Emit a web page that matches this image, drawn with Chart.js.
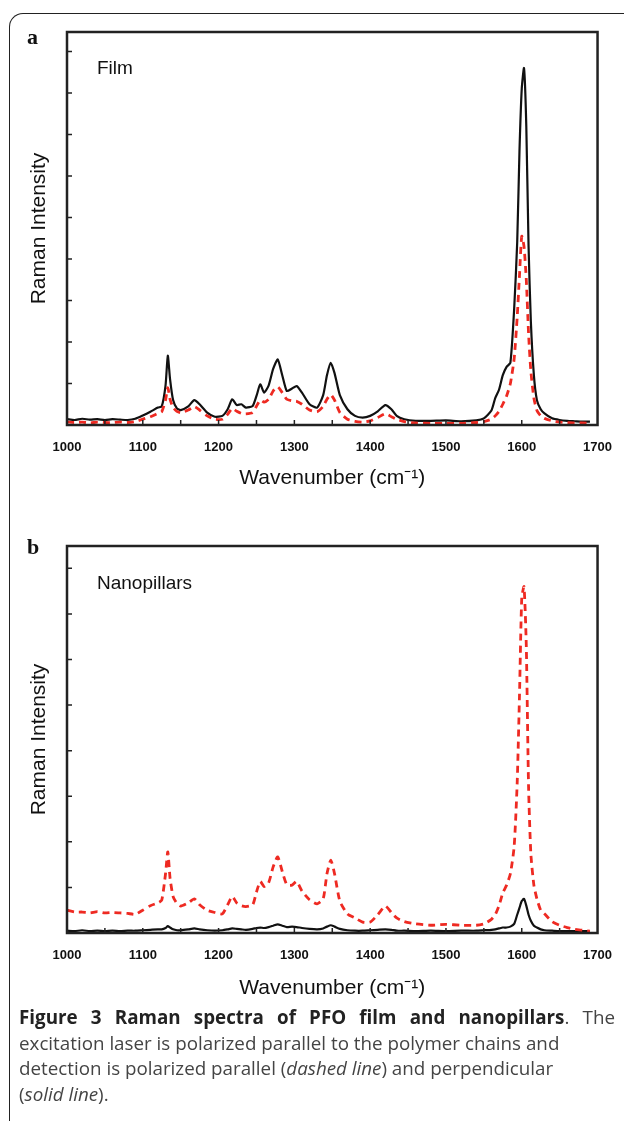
<!DOCTYPE html>
<html>
<head>
<meta charset="utf-8">
<script src="https://cdn.jsdelivr.net/npm/chart.js@4/dist/chart.umd.min.js"></script>
<style>
  body { margin: 0; background: #fff; width: 627px; height: 1121px; overflow: hidden; position: relative; }
  .frame { position: absolute; left: 9px; top: 13px; width: 614px; height: 1120px;
           border-top: 1.5px solid #222; border-left: 1.5px solid #222; border-top-left-radius: 14px; }
  .wrap { position: absolute; left: 0; width: 627px; }
  .tag { position: absolute; font: bold 22px "Liberation Serif", "DejaVu Serif", serif; color: #111; }
  .note { position: absolute; font: 19px "Liberation Sans", Arial, sans-serif; color: #111; }
  .caption { position: absolute; left: 19px; top: 1005px; width: 596px;
             font: 18.8px "Open Sans", "Noto Sans", sans-serif; color: #444; line-height: 25.5px; }
  .caption div { white-space: nowrap; }
  .caption .first { text-align: justify; text-align-last: justify; white-space: normal; }
  .caption b { color: #222; }
</style>
</head>
<body>
<div class="frame"></div>
<div class="wrap" style="top:0;height:500px"><canvas id="chartA" width="627" height="500"></canvas></div>
<div class="wrap" style="top:510px;height:500px"><canvas id="chartB" width="627" height="500"></canvas></div>
<div class="tag" style="left:27px;top:24px">a</div>
<div class="tag" style="left:27px;top:534px">b</div>
<div class="note" style="left:97px;top:57px">Film</div>
<div class="note" style="left:97px;top:572px">Nanopillars</div>
<div class="caption">
  <div class="first"><b>Figure 3 Raman spectra of PFO film and nanopillars</b>. The</div>
  <div>excitation laser is polarized parallel to the polymer chains and</div>
  <div>detection is polarized parallel (<i>dashed line</i>) and perpendicular</div>
  <div>(<i>solid line</i>).</div>
</div>
<script>
// wavenumber grid (cm-1), shared by all four traces
var wavenumbers = [1000,1010,1020,1030,1040,1050,1060,1070,1080,1090,1100,1110,1120,1125,1130,1133,1136,1140,1145,1150,
  1160,1168,1175,1185,1195,1205,1212,1218,1224,1230,1236,1245,1250,1255,1260,1266,1272,1278,1284,1290,
  1297,1303,1310,1320,1330,1338,1343,1348,1353,1360,1370,1380,1390,1400,1410,1420,1428,1435,1445,1460,
  1480,1500,1520,1540,1550,1560,1565,1570,1575,1580,1585,1590,1594,1597,1600,1603,1606,1609,1612,1616,
  1620,1625,1630,1640,1650,1660,1670,1680,1690];

// (a) film
var filmPerpendicular = [0.14,0.12,0.15,0.13,0.14,0.12,0.14,0.13,0.12,0.15,0.23,0.32,0.42,0.45,0.95,1.67,1.1,0.6,0.4,0.36,
  0.45,0.6,0.5,0.3,0.2,0.22,0.38,0.62,0.48,0.5,0.42,0.46,0.7,0.98,0.78,0.95,1.35,1.58,1.2,0.82,
  0.88,0.94,0.78,0.5,0.42,0.72,1.2,1.5,1.25,0.72,0.38,0.22,0.18,0.22,0.33,0.48,0.38,0.22,0.14,0.1,
  0.1,0.11,0.09,0.11,0.16,0.35,0.65,0.85,1.2,1.4,1.5,2.8,4.4,6.6,8.1,8.6,7.2,4.3,2.5,1.2,
  0.6,0.38,0.28,0.16,0.12,0.1,0.09,0.08,0.08];
var filmParallel = [0.07,0.06,0.07,0.05,0.07,0.06,0.06,0.07,0.06,0.08,0.14,0.2,0.28,0.32,0.6,0.9,0.62,0.42,0.33,0.3,
  0.36,0.44,0.36,0.22,0.14,0.14,0.26,0.4,0.33,0.28,0.27,0.3,0.45,0.6,0.55,0.62,0.82,0.92,0.78,0.62,
  0.58,0.57,0.5,0.36,0.32,0.45,0.62,0.73,0.6,0.3,0.14,0.09,0.07,0.1,0.18,0.27,0.2,0.14,0.08,0.05,
  0.04,0.04,0.04,0.06,0.08,0.14,0.22,0.33,0.5,0.7,1.0,1.6,2.6,3.6,4.55,4.3,3.5,2.2,1.3,0.65,
  0.35,0.22,0.16,0.1,0.07,0.06,0.05,0.05,0.04];

// (b) nanopillars
var pillarPerpendicular = [0.05,0.04,0.06,0.04,0.05,0.04,0.05,0.04,0.05,0.05,0.06,0.07,0.08,0.08,0.11,0.15,0.12,0.08,0.06,0.06,
  0.08,0.1,0.08,0.06,0.05,0.06,0.08,0.1,0.09,0.08,0.07,0.09,0.11,0.12,0.11,0.13,0.16,0.19,0.16,0.13,
  0.14,0.13,0.11,0.09,0.08,0.1,0.14,0.17,0.14,0.09,0.06,0.05,0.05,0.06,0.07,0.08,0.07,0.05,0.05,0.04,
  0.05,0.04,0.05,0.05,0.06,0.07,0.08,0.1,0.12,0.12,0.14,0.2,0.4,0.55,0.7,0.75,0.6,0.4,0.27,0.16,
  0.12,0.08,0.06,0.05,0.04,0.04,0.04,0.04,0.04];
var pillarParallel = [0.5,0.46,0.46,0.44,0.47,0.44,0.45,0.44,0.43,0.41,0.5,0.6,0.66,0.72,1.3,1.78,1.2,0.8,0.65,0.59,
  0.66,0.75,0.62,0.5,0.45,0.42,0.62,0.8,0.66,0.6,0.58,0.62,0.9,1.13,1.02,1.1,1.45,1.67,1.35,1.06,
  1.05,1.13,0.92,0.73,0.64,0.75,1.3,1.6,1.3,0.7,0.42,0.33,0.24,0.24,0.4,0.59,0.45,0.33,0.25,0.2,
  0.17,0.19,0.17,0.17,0.2,0.3,0.4,0.6,0.88,1.05,1.3,1.9,3.3,5.2,7.35,7.6,6.3,3.2,1.74,1.05,
  0.75,0.5,0.42,0.25,0.17,0.12,0.08,0.06,0.04];

var xTickLabels = [1000, 1100, 1200, 1300, 1400, 1500, 1600, 1700];

function points(values) {
    return wavenumbers.map(function(w, i) {
        return { x: w, y: values[i] };
    });
}

// plot frame plus the short inward tick marks
var framePlugin = {
    id: 'frame',
    afterDraw: function(chart) {
        var ctx = chart.ctx;
        var area = chart.chartArea;
        var xs = chart.scales.x;
        var ys = chart.scales.y;
        ctx.save();
        ctx.strokeStyle = '#222';
        ctx.lineWidth = 1.5;
        ctx.beginPath();
        for (var w = xs.min + 50; w < xs.max; w += 50) {
            var px = xs.getPixelForValue(w);
            ctx.moveTo(px, area.bottom);
            ctx.lineTo(px, area.bottom - 5);
        }
        for (var v = 1; v < ys.max; v += 1) {
            var py = ys.getPixelForValue(v);
            ctx.moveTo(area.left, py);
            ctx.lineTo(area.left + 5, py);
        }
        ctx.stroke();
        ctx.lineWidth = 2.5;
        ctx.strokeRect(area.left, area.top, area.right - area.left, area.bottom - area.top);
        ctx.restore();
    }
};

function makeChart(id, solid, dashed, yMax, padTop, axisHeight) {
    var ctx = document.getElementById(id).getContext('2d');
    return new Chart(ctx, {
        type: 'line',
        data: {
            datasets: [{
                label: 'perpendicular',
                data: points(solid),
                borderColor: '#111',
                borderWidth: 2.2,
                pointRadius: 0,
                tension: 0.2,
                order: 2
            }, {
                label: 'parallel',
                data: points(dashed),
                borderColor: '#ee2a22',
                borderWidth: 2.8,
                borderDash: [7, 5],
                pointRadius: 0,
                tension: 0.2,
                order: 1
            }]
        },
        options: {
            responsive: false,
            animation: false,
            devicePixelRatio: 1,
            layout: {
                padding: { top: padTop, right: 21, left: 0, bottom: 0 }
            },
            plugins: {
                legend: { display: false },
                tooltip: { enabled: false }
            },
            scales: {
                x: {
                    type: 'linear',
                    min: 1000,
                    max: 1700,
                    afterBuildTicks: function(scale) {
                        scale.ticks = xTickLabels.map(function(v) { return { value: v }; });
                    },
                    afterFit: function(scale) { scale.height = axisHeight; },
                    grid: { display: false, drawTicks: false },
                    border: { display: false },
                    ticks: {
                        padding: 15,
                        color: '#111',
                        maxRotation: 0,
                        callback: function(value) { return String(value); },
                        font: { family: 'Liberation Sans', size: 13, weight: 'bold' }
                    },
                    title: {
                        display: true,
                        text: 'Wavenumber (cm\u207B\u00B9)',
                        color: '#111',
                        padding: { bottom: 9 },
                        font: { family: 'Liberation Sans', size: 21 }
                    }
                },
                y: {
                    min: 0,
                    max: yMax,
                    afterFit: function(scale) { scale.width = 67; },
                    grid: { display: false, drawTicks: false },
                    border: { display: false },
                    ticks: { display: false, stepSize: 1 },
                    title: {
                        display: true,
                        text: 'Raman Intensity',
                        color: '#111',
                        padding: { top: 27 },
                        font: { family: 'Liberation Sans', size: 21 }
                    }
                }
            }
        },
        plugins: [framePlugin]
    });
}

makeChart('chartA', filmPerpendicular, filmParallel, 9.47, 32, 75);
makeChart('chartB', pillarPerpendicular, pillarParallel, 8.49, 36, 77);
</script>
</body>
</html>
